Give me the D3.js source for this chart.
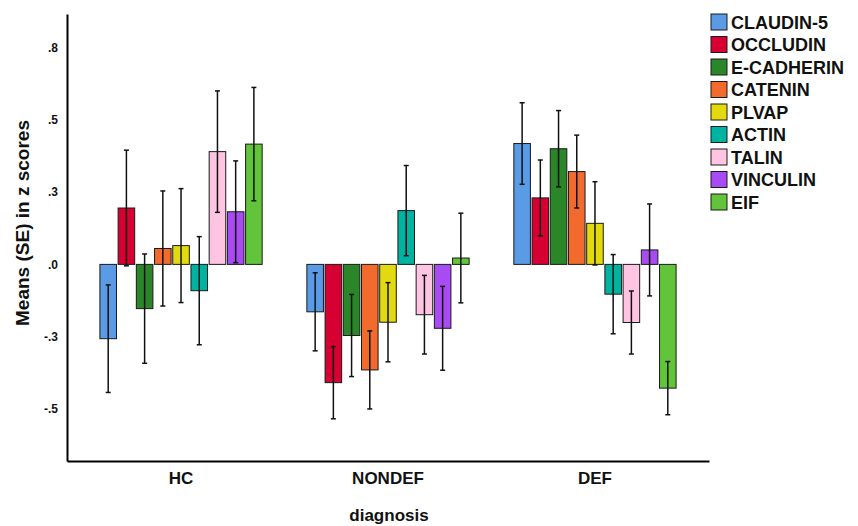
<!DOCTYPE html>
<html>
<head>
<meta charset="utf-8">
<script src="https://cdn.jsdelivr.net/npm/d3@7"></script>
<style>
  body { margin: 0; background: #fff; }
  text { font-family: "Liberation Sans", Arial, sans-serif; font-weight: bold; fill: #111; }
</style>
</head>
<body>
<div id="chart"></div>
<script>
// data
const groups = ['HC', 'NONDEF', 'DEF'];
const markers = ['CLAUDIN-5', 'OCCLUDIN', 'E-CADHERIN', 'CATENIN', 'PLVAP', 'ACTIN', 'TALIN', 'VINCULIN', 'EIF'];
const colors = ['#5b9be6', '#d70033', '#2b8529', '#f26a2c', '#e3d90f', '#00b3a1', '#ffc4e2', '#a94bf2', '#62c43b'];

// means per group, in marker order
const meansHC = [-0.257, 0.195, -0.153, 0.055, 0.065, -0.091, 0.390, 0.182, 0.416];
const meansNONDEF = [-0.164, -0.409, -0.246, -0.365, -0.200, 0.186, -0.174, -0.221, 0.022];
const meansDEF = [0.418, 0.230, 0.400, 0.321, 0.142, -0.103, -0.201, 0.050, -0.428];

// standard errors (half length of the whiskers)
const seHC = [0.186, 0.200, 0.189, 0.199, 0.197, 0.187, 0.210, 0.176, 0.196];
const seNONDEF = [0.135, 0.125, 0.142, 0.135, 0.137, 0.156, 0.136, 0.145, 0.155];
const seDEF = [0.141, 0.131, 0.132, 0.126, 0.144, 0.137, 0.109, 0.159, 0.092];

const tickValues = [-0.5, -0.25, 0, 0.25, 0.5, 0.75];
const tickLabels = ['-.5', '-.3', '.0', '.3', '.5', '.8'];

const means = [meansHC, meansNONDEF, meansDEF];
const ses = [seHC, seNONDEF, seDEF];

const rows = [];
groups.forEach((g, gi) => {
    markers.forEach((m, mi) => {
        rows.push({ group: g, marker: m, mean: means[gi][mi], se: ses[gi][mi] });
    });
});

const W = 858, H = 526;
const plot = { left: 67, right: 709, top: 14, bottom: 461 };

const svg = d3.select('#chart').append('svg')
    .attr('width', W)
    .attr('height', H);

// Scales
const x = d3.scaleBand()
    .domain(groups)
    .range([plot.left, plot.right])
    .paddingInner(0.216)
    .paddingOuter(0.159);

const xInner = d3.scaleBand()
    .domain(markers)
    .range([0, x.bandwidth()])
    .paddingInner(0.09);

const y = d3.scaleLinear()
    .domain([-0.68, 0.866])
    .range([plot.bottom, plot.top]);

const color = d3.scaleOrdinal()
    .domain(markers)
    .range(colors);

// Bars
svg.append('g').selectAll('rect')
    .data(rows)
    .enter().append('rect')
    .attr('x', d => x(d.group) + xInner(d.marker))
    .attr('width', xInner.bandwidth())
    .attr('y', d => y(Math.max(0, d.mean)))
    .attr('height', d => Math.abs(y(d.mean) - y(0)))
    .attr('fill', d => color(d.marker))
    .attr('stroke', '#1a1a1a')
    .attr('stroke-width', 1);

// Error bars
const err = svg.append('g')
    .attr('stroke', '#111')
    .attr('stroke-width', 1.5);

rows.forEach(d => {
    const cx = x(d.group) + xInner(d.marker) + xInner.bandwidth() / 2;
    const y1 = y(d.mean + d.se);
    const y2 = y(d.mean - d.se);
    err.append('line').attr('x1', cx).attr('x2', cx).attr('y1', y1).attr('y2', y2);
    err.append('line').attr('x1', cx - 2.5).attr('x2', cx + 2.5).attr('y1', y1).attr('y2', y1);
    err.append('line').attr('x1', cx - 2.5).attr('x2', cx + 2.5).attr('y1', y2).attr('y2', y2);
});

// Axes
const yAxis = svg.append('g')
    .attr('transform', `translate(${plot.left},0)`)
    .call(d3.axisLeft(y)
        .tickValues(tickValues)
        .tickSize(0)
        .tickPadding(9)
        .tickFormat((d, i) => tickLabels[i]));
yAxis.select('.domain').attr('stroke', '#000').attr('stroke-width', 2);
yAxis.selectAll('text')
    .style('font-size', '12px')
    .style('font-family', '"Liberation Sans", Arial, sans-serif')
    .style('font-weight', 'bold')
    .attr('fill', '#111');

const xAxis = svg.append('g')
    .attr('transform', `translate(0,${plot.bottom})`)
    .call(d3.axisBottom(x).tickSize(0).tickPadding(11));
xAxis.select('.domain').attr('stroke', '#000').attr('stroke-width', 2);
xAxis.selectAll('text')
    .style('font-size', '17px')
    .style('font-family', '"Liberation Sans", Arial, sans-serif')
    .style('font-weight', 'bold')
    .attr('fill', '#111');

// Axis titles
svg.append('text')
    .attr('x', 389)
    .attr('y', 521)
    .attr('text-anchor', 'middle')
    .style('font-size', '17px')
    .text('diagnosis');

svg.append('text')
    .attr('transform', 'rotate(-90)')
    .attr('x', -223)
    .attr('y', 29)
    .attr('text-anchor', 'middle')
    .style('font-size', '19px')
    .text('Means (SE) in z scores');

// Legend
const legend = svg.append('g')
    .attr('transform', 'translate(711,14)');

const item = legend.selectAll('g')
    .data(markers)
    .enter().append('g')
    .attr('transform', (d, i) => `translate(0,${i * 22.5})`);

item.append('rect')
    .attr('width', 16)
    .attr('height', 16)
    .attr('fill', d => color(d))
    .attr('stroke', '#1a1a1a')
    .attr('stroke-width', 1);

item.append('text')
    .attr('x', 20)
    .attr('y', 14.5)
    .style('font-size', '18px')
    .text(d => d);
</script>
</body>
</html>
